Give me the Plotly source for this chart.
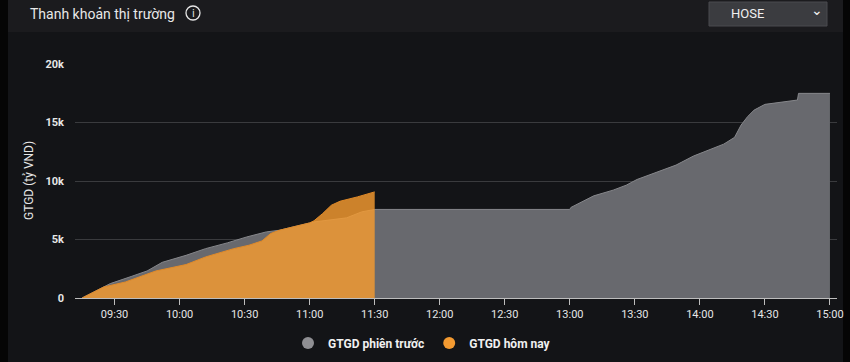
import plotly.graph_objects as go

DAY = "2024-01-01 "

# Previous session (GTGD phiên trước), cumulative value, bn VND
prev_times = ["09:15", "09:28", "09:38", "09:45", "09:52", "10:03", "10:12", "10:22",
              "10:31", "10:40", "10:46", "11:02", "11:17", "11:24", "11:30",
              "13:00", "13:00:30", "13:11", "13:20", "13:26", "13:31", "13:39", "13:49",
              "13:57", "14:04", "14:11", "14:16", "14:19", "14:22", "14:25",
              "14:30", "14:45", "14:45:30", "15:00"]
prev_values = [0, 1230, 1860, 2310, 3050, 3650, 4220, 4710,
               5220, 5650, 5790, 6500, 6850, 7360, 7570,
               7570, 7740, 8730, 9220, 9640, 10130, 10700, 11360,
               12130, 12640, 13150, 13730, 14780, 15500, 16060,
               16550, 16920, 17490, 17490]

# Today (GTGD hôm nay)
today_times = ["09:15", "09:25", "09:35", "09:49", "10:03", "10:12", "10:25", "10:32",
               "10:38", "10:42", "10:46", "10:52", "11:00", "11:02", "11:06", "11:10",
               "11:14", "11:22", "11:30"]
today_values = [0, 940, 1370, 2310, 2860, 3510, 4220, 4510,
                4880, 5510, 5790, 6080, 6420, 6600, 7220, 7930,
                8270, 8640, 9070]

y_ticks = [0, 5000, 10000, 15000, 20000]
y_tick_labels = ["<b>0</b>", "<b>5k</b>", "<b>10k</b>", "<b>15k</b>", "<b>20k</b>"]

series_names = ["GTGD phiên trước", "GTGD hôm nay"]
title_text = "Thanh khoản thị trường"
y_title = "GTGD (tỷ VND)"
exchange = "HOSE"

GRAY_FILL = "#68696e"
GRAY_LINE = "#86878b"
ORANGE_FILL = "rgba(245,155,47,0.82)"
BG = "#131417"
HEADER_BG = "#1b1b1e"
TEXT = "#e6e6e6"

fig = go.Figure()
fig.add_trace(go.Scatter(
    x=[DAY + t for t in prev_times], y=prev_values, mode="lines",
    fill="tozeroy", fillcolor=GRAY_FILL, line=dict(color=GRAY_LINE, width=1),
    name=series_names[0], showlegend=False, hoverinfo="skip"))
fig.add_trace(go.Scatter(
    x=[DAY + t for t in today_times], y=today_values, mode="lines",
    fill="tozeroy", fillcolor=ORANGE_FILL, line=dict(color="rgba(225,138,40,1)", width=1),
    name=series_names[1], showlegend=False, hoverinfo="skip"))
# legend entries with round markers
fig.add_trace(go.Scatter(x=[None], y=[None], mode="markers", name="<b>" + series_names[0] + "</b>",
                         marker=dict(color="#8f8f93", size=12)))
fig.add_trace(go.Scatter(x=[None], y=[None], mode="markers", name="<b>" + series_names[1] + "</b>",
                         marker=dict(color="#f39a31", size=12)))

fig.update_layout(
    width=850, height=362,
    paper_bgcolor=BG, plot_bgcolor=BG,
    margin=dict(l=75, r=13, t=64, b=64, autoexpand=False),
    font=dict(family="Roboto, Arial, sans-serif", color=TEXT, size=11),
    showlegend=True,
    legend=dict(orientation="h", xref="container", yref="container",
                x=422/850, xanchor="center", y=(362 - 343)/362, yanchor="middle",
                font=dict(size=12, color="#f0f0f0", family="Roboto, Arial, sans-serif"),
                itemsizing="constant", bgcolor="rgba(0,0,0,0)", traceorder="normal",
                itemwidth=30),
    xaxis=dict(
        type="date", automargin=False,
        range=[DAY + "09:11:45", DAY + "15:03:15"],
        tick0=DAY + "09:30", dtick=1800000, tickformat="%H:%M",
        showgrid=False, zeroline=False,
        showline=True, linecolor="#bdbdbd", linewidth=1,
        ticks="outside", ticklen=6, tickcolor="#bdbdbd", tickwidth=1,
        tickfont=dict(size=11, color=TEXT),
    ),
    yaxis=dict(
        automargin=False,
        range=[0, 20000], tickvals=y_ticks, ticktext=y_tick_labels,
        showgrid=True, gridcolor="#3a3b3e", gridwidth=1, zeroline=False,
        showline=False, ticks="", ticklabelstandoff=10,
        tickfont=dict(size=11, color=TEXT, family="Roboto, Arial, sans-serif"),
    ),
    shapes=[
        # left/right dark strips
        dict(type="rect", xref="paper", yref="paper", layer="below",
             x0=-75/762, x1=-67/762, y0=-64/234, y1=298/234,
             fillcolor="#050505", line_width=0),
        dict(type="rect", xref="paper", yref="paper", layer="below",
             x0=1 + 6/762, x1=1 + 13/762, y0=-64/234, y1=298/234,
             fillcolor="#050505", line_width=0),
        # header band
        dict(type="rect", xref="paper", yref="paper", layer="below",
             x0=-67/762, x1=1 + 6/762, y0=(298 - 32)/234, y1=298/234,
             fillcolor=HEADER_BG, line_width=0),
        # dropdown box
        dict(type="rect", xref="paper", yref="paper",
             x0=(709 - 75)/762, x1=(827 - 75)/762,
             y0=(298 - 26)/234, y1=(298 - 2)/234,
             fillcolor="#3b3c40", line=dict(color="#4a4b4f", width=1)),
        # info icon circle
        dict(type="circle", xref="paper", yref="paper",
             x0=(186 - 75)/762, x1=(200 - 75)/762,
             y0=(298 - 20)/234, y1=(298 - 6)/234,
             line=dict(color="#e6e6e6", width=1.3)),
    ],
    annotations=[
        dict(text=title_text, xref="paper", yref="paper",
             x=(28 - 75)/762, y=(298 - 14)/234, xanchor="left", yanchor="middle",
             showarrow=False, font=dict(size=14, color="#e8e8e8")),
        dict(text=y_title, xref="paper", yref="paper", textangle=-90,
             x=(29 - 75)/762, y=(298 - 181)/234, xanchor="center", yanchor="middle",
             showarrow=False, font=dict(size=12, color=TEXT)),
        dict(text="i", xref="paper", yref="paper",
             x=(193 - 75)/762, y=(298 - 13)/234, xanchor="center", yanchor="middle",
             showarrow=False, font=dict(size=10, color="#e8e8e8", family="DejaVu Sans")),
        dict(text=exchange, xref="paper", yref="paper",
             x=(747 - 75)/762, y=(298 - 13.5)/234, xanchor="center", yanchor="middle",
             showarrow=False, font=dict(size=13, color="#f0f0f0")),
        dict(text="⌄", xref="paper", yref="paper",
             x=(817 - 75)/762, y=(298 - 10)/234, xanchor="center", yanchor="middle",
             showarrow=False, font=dict(size=14, color="#f0f0f0", family="DejaVu Sans")),
    ],
)

fig.write_html("out.html", config={"displayModeBar": False},
               post_script="document.body.style.margin='0';document.body.style.background='#050505';")
